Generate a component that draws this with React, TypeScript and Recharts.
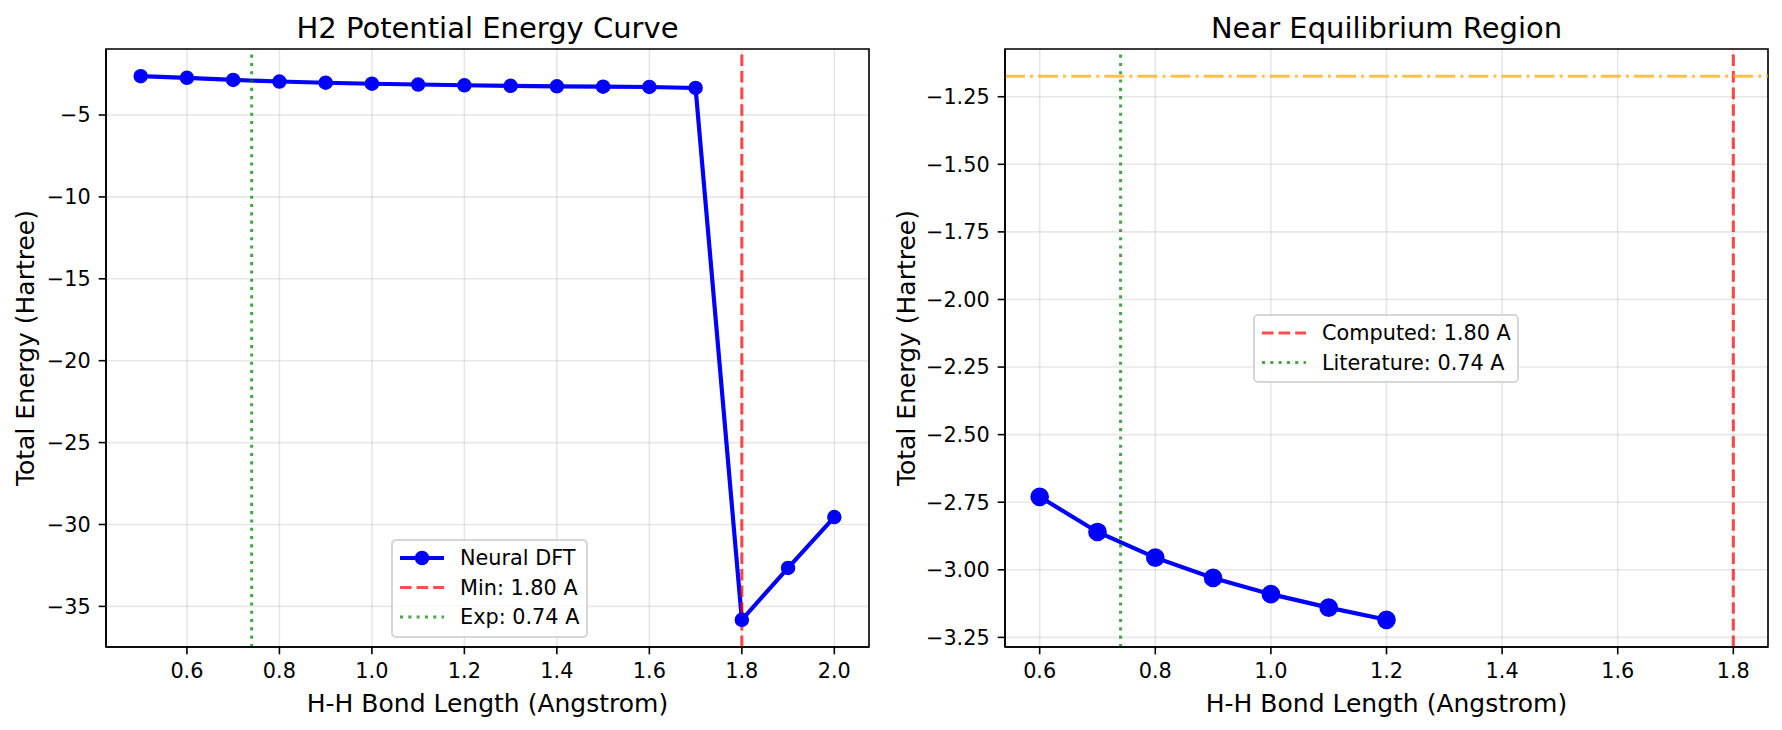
import { LineChart, Line, XAxis, YAxis, CartesianGrid, ReferenceLine, ReferenceArea } from "recharts";

const FONT = "'DejaVu Sans', sans-serif";

// scan over H-H distance
const BOND_LENGTH = [0.5, 0.6, 0.7, 0.8, 0.9, 1.0, 1.1, 1.2, 1.3, 1.4, 1.5, 1.6, 1.7, 1.8, 1.9, 2.0];
const ENERGY = [-2.63, -2.73, -2.86, -2.955, -3.03, -3.09, -3.14, -3.185, -3.22, -3.25, -3.27, -3.29, -3.35, -35.82, -32.65, -29.55];

const R_MIN = 1.8;
const R_EXP = 0.74;
const E_LIT = -1.174;
const NEAR_LO = 0.6;
const NEAR_HI = 1.2;

const FULL_X_TICKS = [0.6, 0.8, 1.0, 1.2, 1.4, 1.6, 1.8, 2.0];
const FULL_Y_TICKS = [-35, -30, -25, -20, -15, -10, -5];
const NEAR_X_TICKS = [0.6, 0.8, 1.0, 1.2, 1.4, 1.6, 1.8];
const NEAR_Y_TICKS = [-3.25, -3.0, -2.75, -2.5, -2.25, -2.0, -1.75, -1.5, -1.25];

const fullData = BOND_LENGTH.map((r, i) => ({ r, e: ENERGY[i] }));
const nearData = fullData.filter((d) => d.r >= NEAR_LO - 1e-9 && d.r <= NEAR_HI + 1e-9);

// matplotlib-style 5% margins
const pad = (vals: number[]): [number, number] => {
  const lo = Math.min(...vals);
  const hi = Math.max(...vals);
  const m = (hi - lo) * 0.05;
  return [lo - m, hi + m];
};

const minus = (s: string) => s.replace("-", "\u2212");
const fmtX = (v: number) => v.toFixed(1);
const fmtInt = (v: number) => minus(String(v));
const fmt2 = (v: number) => minus(v.toFixed(2));

const BLUE = "#0000ff";
const LW = 4.17;
const SPINE = { stroke: "#000", strokeWidth: 1.6 };
const TICK = { fontSize: 20.8, fill: "#000", fontFamily: FONT };

type PanelProps = {
  data: { r: number; e: number }[];
  xDomain: [number, number];
  yDomain: [number, number];
  xTicks: number[];
  yTicks: number[];
  fmtY: (v: number) => string;
  dotR: number;
  left: number;
  width: number;
  marginLeft: number;
  marginRight: number;
  showLit?: boolean;
};

function Panel(p: PanelProps) {
  return (
    <div style={{ position: "absolute", left: p.left, top: 0 }}>
      <LineChart
        width={p.width}
        height={730}
        data={p.data}
        margin={{ top: 49, right: p.marginRight, bottom: 43, left: p.marginLeft }}
      >
        <CartesianGrid stroke="#b0b0b0" strokeOpacity={0.3} strokeWidth={1.6} />
        <XAxis
          dataKey="r"
          type="number"
          domain={p.xDomain}
          ticks={p.xTicks}
          allowDataOverflow
          tickFormatter={fmtX}
          height={40}
          tick={TICK}
          tickSize={7.3}
          tickMargin={9}
          tickLine={SPINE}
          axisLine={SPINE}
        />
        <YAxis
          type="number"
          domain={p.yDomain}
          ticks={p.yTicks}
          allowDataOverflow
          tickFormatter={p.fmtY}
          width={80}
          tick={TICK}
          tickSize={7.3}
          tickMargin={8}
          tickLine={SPINE}
          axisLine={SPINE}
        />
        <Line
          dataKey="e"
          stroke={BLUE}
          strokeWidth={LW}
          dot={{ r: p.dotR, fill: BLUE, stroke: BLUE, strokeWidth: 2 }}
          activeDot={false}
          isAnimationActive={false}
        />
        <ReferenceLine x={R_MIN} stroke="#ff0000" strokeOpacity={0.7} strokeWidth={3.1} strokeDasharray="11.6 5" />
        <ReferenceLine x={R_EXP} stroke="#008000" strokeOpacity={0.7} strokeWidth={3.1} strokeDasharray="3.1 5.2" />
        {p.showLit && (
          <ReferenceLine y={E_LIT} stroke="#ffa500" strokeOpacity={0.7} strokeWidth={3.1} strokeDasharray="20 5 3.1 5" />
        )}
        {/* full frame like matplotlib spines */}
        <ReferenceArea
          x1={p.xDomain[0]}
          x2={p.xDomain[1]}
          y1={p.yDomain[0]}
          y2={p.yDomain[1]}
          fill="none"
          fillOpacity={0}
          stroke="#000"
          strokeOpacity={1}
          strokeWidth={1.6}
          ifOverflow="visible"
        />
      </LineChart>
    </div>
  );
}

function LegendBox({ x, y, w, h, rows }: { x: number; y: number; w: number; h: number; rows: { label: string; kind: string }[] }) {
  return (
    <g>
      <rect x={x} y={y} width={w} height={h} rx={4} fill="#fff" fillOpacity={0.8} stroke="#cccccc" strokeOpacity={0.8} strokeWidth={2} />
      {rows.map((row, i) => {
        const cy = y + 18 + i * 29.5;
        const x0 = x + 8;
        const x1 = x + 52;
        return (
          <g key={row.label}>
            {row.kind === "line" && (
              <>
                <line x1={x0} x2={x1} y1={cy} y2={cy} stroke={BLUE} strokeWidth={LW} />
                <circle cx={(x0 + x1) / 2} cy={cy} r={6.25} fill={BLUE} stroke={BLUE} strokeWidth={2} />
              </>
            )}
            {row.kind === "red" && (
              <line x1={x0} x2={x1} y1={cy} y2={cy} stroke="#ff0000" strokeOpacity={0.7} strokeWidth={3.1} strokeDasharray="11.6 5" />
            )}
            {row.kind === "green" && (
              <line x1={x0} x2={x1} y1={cy} y2={cy} stroke="#008000" strokeOpacity={0.7} strokeWidth={3.1} strokeDasharray="3.1 5.2" />
            )}
            <text x={x + 68} y={cy + 7.3} fontSize={20.8} fontFamily={FONT} fill="#000">
              {row.label}
            </text>
          </g>
        );
      })}
    </g>
  );
}

export default function App() {
  const fullX = pad(fullData.map((d) => d.r));
  const fullY = pad(fullData.map((d) => d.e));
  const nearX = pad([...nearData.map((d) => d.r), R_MIN, R_EXP]);
  const nearY = pad([...nearData.map((d) => d.e), E_LIT]);

  return (
    <div style={{ position: "relative", width: 1782, height: 730, background: "#fff", fontFamily: FONT }}>
      <style>{"body{margin:0}"}</style>
      <Panel
        data={fullData}
        xDomain={fullX}
        yDomain={fullY}
        xTicks={FULL_X_TICKS}
        yTicks={FULL_Y_TICKS}
        fmtY={fmtInt}
        dotR={6.25}
        left={0}
        width={890}
        marginLeft={26}
        marginRight={21}
      />
      <Panel
        data={nearData}
        xDomain={nearX}
        yDomain={nearY}
        xTicks={NEAR_X_TICKS}
        yTicks={NEAR_Y_TICKS}
        fmtY={fmt2}
        dotR={8.33}
        left={890}
        width={892}
        marginLeft={35}
        marginRight={14}
        showLit
      />
      <svg width={1782} height={730} style={{ position: "absolute", left: 0, top: 0, pointerEvents: "none" }}>
        <text x={487.5} y={37.5} textAnchor="middle" fontSize={29} fontFamily={FONT}>H2 Potential Energy Curve</text>
        <text x={1386.5} y={37.5} textAnchor="middle" fontSize={29} fontFamily={FONT}>Near Equilibrium Region</text>
        <text x={487.5} y={711.5} textAnchor="middle" fontSize={25} fontFamily={FONT}>H-H Bond Length (Angstrom)</text>
        <text x={1386.5} y={711.5} textAnchor="middle" fontSize={25} fontFamily={FONT}>H-H Bond Length (Angstrom)</text>
        <text transform="translate(34,348) rotate(-90)" textAnchor="middle" fontSize={25} fontFamily={FONT}>Total Energy (Hartree)</text>
        <text transform="translate(915,348) rotate(-90)" textAnchor="middle" fontSize={25} fontFamily={FONT}>Total Energy (Hartree)</text>
        <LegendBox
          x={392}
          y={540}
          w={195}
          h={97}
          rows={[
            { label: "Neural DFT", kind: "line" },
            { label: "Min: 1.80 A", kind: "red" },
            { label: "Exp: 0.74 A", kind: "green" },
          ]}
        />
        <LegendBox
          x={1254}
          y={315}
          w={264}
          h={67}
          rows={[
            { label: "Computed: 1.80 A", kind: "red" },
            { label: "Literature: 0.74 A", kind: "green" },
          ]}
        />
      </svg>
    </div>
  );
}
